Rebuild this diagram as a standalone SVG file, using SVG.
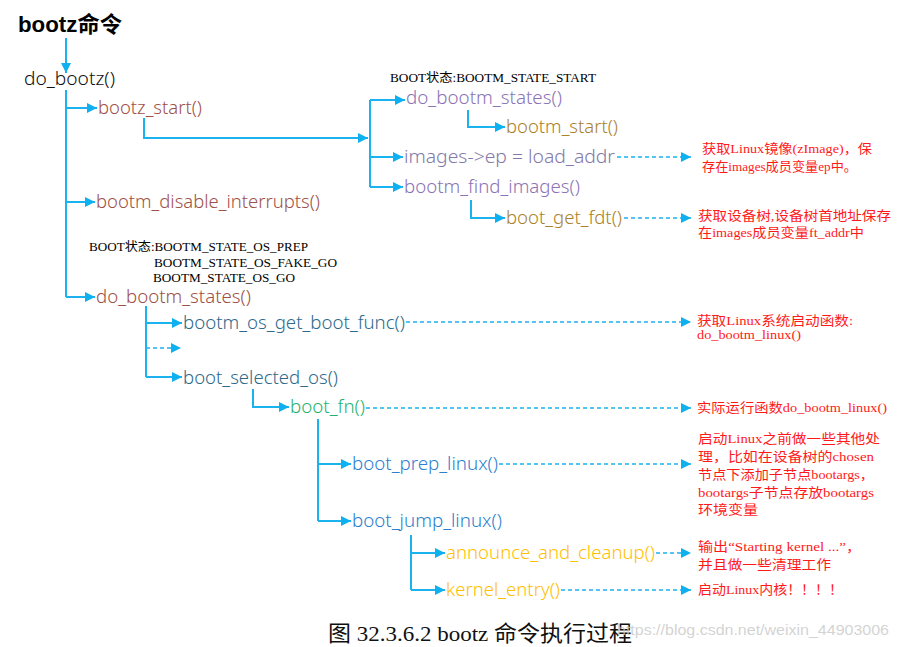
<svg xmlns="http://www.w3.org/2000/svg" width="899" height="647" viewBox="0 0 899 647">
<defs>
<marker id="ah" markerUnits="userSpaceOnUse" markerWidth="10" markerHeight="10" refX="10" refY="5" orient="auto">
<path d="M0,0 L10,5 L0,10 z" fill="#0fb0ef"/>
</marker>
<style>
.c{fill:none;stroke:#1bb2f0;stroke-width:2}
.a{marker-end:url(#ah)}
.d{fill:none;stroke:#1bb2f0;stroke-width:1.6;stroke-dasharray:4 3}
.f{font-family:"Noto Sans","Open Sans","Liberation Sans",sans-serif;font-size:18px;font-weight:300}
.s{font-family:"Liberation Serif","Noto Sans CJK SC",serif;font-size:12.5px;fill:#000}
.n{font-family:"Liberation Serif","Noto Sans CJK SC",serif;font-size:13px;fill:#ff1a1a}
</style>
</defs>
<rect width="899" height="647" fill="#fff"/>
<g id="title"><text x="18" y="32" font-family="Liberation Sans,Noto Sans CJK SC,sans-serif" font-size="22" font-weight="bold" fill="#000" textLength="104" lengthAdjust="spacingAndGlyphs">bootz命令</text></g>
<g id="connectors">
<path class="c a" d="M66,38 V73"/>
<path class="c" d="M66,90 V297"/>
<path class="c a" d="M66,108 H97"/>
<path class="c a" d="M66,202 H95"/>
<path class="c a" d="M66,297 H95"/>
<path class="c a" d="M144,118 V138 H368"/>
<path class="c" d="M370,100 V187"/>
<path class="c a" d="M370,100 H405"/>
<path class="c a" d="M370,157 H403"/>
<path class="c a" d="M370,187 H403"/>
<path class="c a" d="M468,110 V127 H505"/>
<path class="d a" d="M617,157 H691"/>
<path class="c a" d="M471,200 V218 H505"/>
<path class="d a" d="M624,218 H691"/>
<path class="c" d="M146,306 V377"/>
<path class="c a" d="M146,323 H182"/>
<path class="d a" d="M146,348 H181"/>
<path class="c a" d="M146,377 H182"/>
<path class="d a" d="M406,322 H691"/>
<path class="c a" d="M253,389 V407 H289"/>
<path class="d a" d="M366,408 H691"/>
<path class="c" d="M318,419 V521"/>
<path class="c a" d="M318,464 H351"/>
<path class="c a" d="M318,521 H351"/>
<path class="d a" d="M499,464 H691"/>
<path class="c" d="M411,535 V590"/>
<path class="c a" d="M411,553 H445"/>
<path class="c a" d="M411,590 H445"/>
<path class="d a" d="M656,553 H691"/>
<path class="d a" d="M561,590 H691"/>
</g>
<g id="do_bootz"><text class="f" x="24" y="85" fill="#111" textLength="91" lengthAdjust="spacingAndGlyphs">do_bootz()</text></g>
<g id="bootz_start"><text class="f" x="98" y="114" fill="#9e5148" textLength="104" lengthAdjust="spacingAndGlyphs">bootz_start()</text></g>
<g id="bootm_disable_interrupts"><text class="f" x="96" y="208" fill="#9e5148" textLength="224" lengthAdjust="spacingAndGlyphs">bootm_disable_interrupts()</text></g>
<g id="state1"><text class="s" x="390" y="82" textLength="206" lengthAdjust="spacingAndGlyphs">BOOT状态:BOOTM_STATE_START</text></g>
<g id="do_bootm_states_1"><text class="f" x="406" y="104" fill="#8b73b5" textLength="156" lengthAdjust="spacingAndGlyphs">do_bootm_states()</text></g>
<g id="bootm_start"><text class="f" x="506" y="133" fill="#a9822a" textLength="112" lengthAdjust="spacingAndGlyphs">bootm_start()</text></g>
<g id="images_ep"><text class="f" x="404" y="163" fill="#8378a8" textLength="211" lengthAdjust="spacingAndGlyphs">images-&gt;ep = load_addr</text></g>
<g id="note_ep"><text class="n" x="702" y="153" textLength="170" lengthAdjust="spacingAndGlyphs">获取Linux镜像(zImage)，保</text><text class="n" x="702" y="171" textLength="155" lengthAdjust="spacingAndGlyphs">存在images成员变量ep中。</text></g>
<g id="bootm_find_images"><text class="f" x="404" y="193" fill="#8b73b5" textLength="176" lengthAdjust="spacingAndGlyphs">bootm_find_images()</text></g>
<g id="boot_get_fdt"><text class="f" x="506" y="224" fill="#a9822a" textLength="116" lengthAdjust="spacingAndGlyphs">boot_get_fdt()</text></g>
<g id="note_fdt"><text class="n" x="698" y="220" textLength="193" lengthAdjust="spacingAndGlyphs">获取设备树,设备树首地址保存</text><text class="n" x="698" y="237" textLength="166" lengthAdjust="spacingAndGlyphs">在images成员变量ft_addr中</text></g>
<g id="state2"><text class="s" x="89" y="251" textLength="219" lengthAdjust="spacingAndGlyphs">BOOT状态:BOOTM_STATE_OS_PREP</text><text class="s" x="154" y="267" textLength="183" lengthAdjust="spacingAndGlyphs">BOOTM_STATE_OS_FAKE_GO</text><text class="s" x="153" y="282" textLength="142" lengthAdjust="spacingAndGlyphs">BOOTM_STATE_OS_GO</text></g>
<g id="do_bootm_states_2"><text class="f" x="96" y="303" fill="#9e5148" textLength="155" lengthAdjust="spacingAndGlyphs">do_bootm_states()</text></g>
<g id="bootm_os_get_boot_func"><text class="f" x="183" y="329" fill="#2e6a8c" textLength="222" lengthAdjust="spacingAndGlyphs">bootm_os_get_boot_func()</text></g>
<g id="note_func"><text class="n" x="697" y="325" textLength="156" lengthAdjust="spacingAndGlyphs">获取Linux系统启动函数:</text><text class="n" x="697" y="339" textLength="104" lengthAdjust="spacingAndGlyphs">do_bootm_linux()</text></g>
<g id="boot_selected_os"><text class="f" x="183" y="384" fill="#2e6a8c" textLength="155" lengthAdjust="spacingAndGlyphs">boot_selected_os()</text></g>
<g id="boot_fn"><text class="f" x="290" y="413" fill="#1fb36f" textLength="75" lengthAdjust="spacingAndGlyphs">boot_fn()</text></g>
<g id="note_fn"><text class="n" x="697" y="412" textLength="190" lengthAdjust="spacingAndGlyphs">实际运行函数do_bootm_linux()</text></g>
<g id="boot_prep_linux"><text class="f" x="352" y="470" fill="#2d7fcf" textLength="146" lengthAdjust="spacingAndGlyphs">boot_prep_linux()</text></g>
<g id="note_prep"><text class="n" x="698" y="443" textLength="182" lengthAdjust="spacingAndGlyphs">启动Linux之前做一些其他处</text><text class="n" x="698" y="461" textLength="176" lengthAdjust="spacingAndGlyphs">理，比如在设备树的chosen</text><text class="n" x="698" y="479" textLength="176" lengthAdjust="spacingAndGlyphs">节点下添加子节点bootargs，</text><text class="n" x="698" y="497" textLength="176" lengthAdjust="spacingAndGlyphs">bootargs子节点存放bootargs</text><text class="n" x="698" y="514" textLength="60" lengthAdjust="spacingAndGlyphs">环境变量</text></g>
<g id="boot_jump_linux"><text class="f" x="352" y="527" fill="#2d7fcf" textLength="150" lengthAdjust="spacingAndGlyphs">boot_jump_linux()</text></g>
<g id="announce_and_cleanup"><text class="f" x="446" y="559" fill="#ffc000" textLength="209" lengthAdjust="spacingAndGlyphs">announce_and_cleanup()</text></g>
<g id="note_announce"><text class="n" x="698" y="551" textLength="163" lengthAdjust="spacingAndGlyphs">输出“Starting kernel ...”，</text><text class="n" x="698" y="569" textLength="133" lengthAdjust="spacingAndGlyphs">并且做一些清理工作</text></g>
<g id="kernel_entry"><text class="f" x="446" y="596" fill="#ffc000" textLength="114" lengthAdjust="spacingAndGlyphs">kernel_entry()</text></g>
<g id="note_kernel"><text class="n" x="698" y="594" textLength="145" lengthAdjust="spacingAndGlyphs">启动Linux内核！！！！</text></g>
<g id="caption"><text x="328" y="641" font-family="Liberation Serif,Noto Sans CJK SC,serif" font-size="22" fill="#111" textLength="304" lengthAdjust="spacingAndGlyphs">图 32.3.6.2 bootz 命令执行过程</text>
<text x="617" y="635" font-family="Liberation Sans,sans-serif" font-size="15" fill="#c8c8c8" fill-opacity="0.8" textLength="272" lengthAdjust="spacingAndGlyphs">https://blog.csdn.net/weixin_44903006</text></g>
</svg>
